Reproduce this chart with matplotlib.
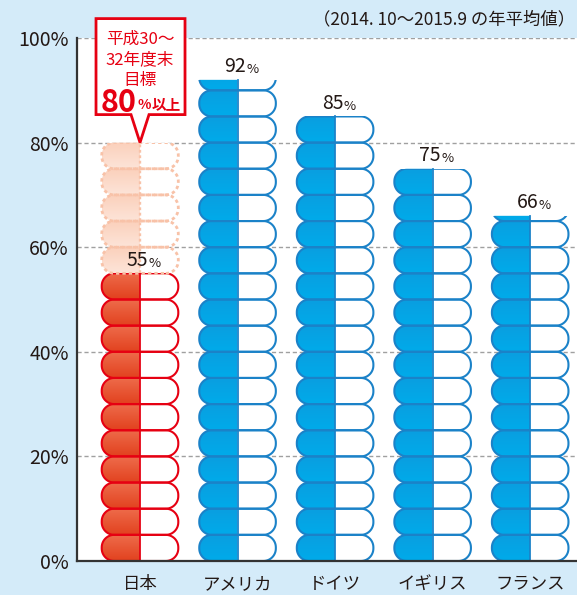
import numpy as np
import matplotlib.pyplot as plt
from matplotlib.path import Path
from matplotlib.patches import PathPatch, Rectangle
import matplotlib.colors as mcolors

plt.rcParams['font.family'] = ['Noto Sans CJK JP', 'DejaVu Sans']

# data
countries = ['日本', 'アメリカ', 'ドイツ', 'イギリス', 'フランス']
rates = [55, 92, 85, 75, 66]
target = 80          # Japanese goal
pill_step = 5        # one capsule = 5 %
yticks = [0, 20, 40, 60, 80, 100]
note = '（2014. 10～2015.9 の年平均値）'
goal_lines = ['平成30～', '32年度末', '目標']
goal_value = '80'
goal_suffix = '%以上'

W, H = 577, 595
fig = plt.figure(figsize=(W / 100, H / 100), dpi=100)
fig.patch.set_facecolor('#d4ebf9')
ax = fig.add_axes([77 / W, 34 / H, 1 - 77 / W, 523 / H])
XLIM = (-0.646, 4.48)
ax.set_xlim(*XLIM)
ax.set_ylim(0, 100)

# pixels per data unit, used to keep the capsule ends round
PX_X = (W - 77) / (XLIM[1] - XLIM[0])
PX_Y = 523 / 100.0

PILL_W = 0.785
R_PX = 12.5
INK = '#231815'


def corner(cx, cy, a0, a1, n=16):
    t = np.radians(np.linspace(a0, a1, n))
    return np.column_stack([cx + np.cos(t) * R_PX / PX_X, cy + np.sin(t) * R_PX / PX_Y])


def outline(xc, y0, part):
    """capsule outline: part is 'full', 'left' or 'right'"""
    left, right = xc - PILL_W / 2, xc + PILL_W / 2
    bot, top = y0, y0 + pill_step
    rx, ry = R_PX / PX_X, R_PX / PX_Y
    br = corner(right - rx, bot + ry, -90, 0)
    tr = corner(right - rx, top - ry, 0, 90)
    tl = corner(left + rx, top - ry, 90, 180)
    bl = corner(left + rx, bot + ry, 180, 270)
    if part == 'full':
        pts = np.vstack([br, tr, tl, bl, br[:1]])
    elif part == 'left':
        pts = np.vstack([[[xc, top]], tl, bl, [[xc, bot]], [[xc, top]]])
    else:
        pts = np.vstack([[[xc, bot]], br, tr, [[xc, top]], [[xc, bot]]])
    return pts


def gradient(c_top, c_bot, n=32):
    a = np.array(mcolors.to_rgba(c_top))
    b = np.array(mcolors.to_rgba(c_bot))
    t = np.linspace(0, 1, n)[:, None]
    return (a * (1 - t) + b * t)[:, None, :]


def draw_pill(xc, y0, top_val, colors, edge, lw=1.5, ls='-'):
    clip = Rectangle((XLIM[0], 0), XLIM[1] - XLIM[0], top_val, transform=ax.transData)
    lpts = outline(xc, y0, 'left')
    lpts[:, 1] = np.minimum(lpts[:, 1], top_val)
    lpatch = PathPatch(Path(lpts), facecolor='none', edgecolor='none', transform=ax.transData)
    ax.add_patch(lpatch)
    im = ax.imshow(gradient(*colors), extent=(xc - PILL_W / 2, xc, y0, y0 + pill_step),
                   aspect='auto', origin='upper', zorder=2, interpolation='bilinear')
    im.set_clip_path(lpatch)
    rpts = outline(xc, y0, 'right')
    rpts[:, 1] = np.minimum(rpts[:, 1], top_val)
    ax.add_patch(PathPatch(Path(rpts), facecolor='white', edgecolor='none', zorder=2))
    op = PathPatch(Path(outline(xc, y0, 'full')), facecolor='none', edgecolor=edge,
                   lw=lw, ls=ls, zorder=3)
    ax.add_patch(op)
    op.set_clip_path(clip)
    ax.plot([xc, xc], [y0, min(y0 + pill_step, top_val)], color=edge, lw=lw * 0.85,
            ls=ls, zorder=3)


for i, (name, val) in enumerate(zip(countries, rates)):
    if i == 0:
        fill, edge = ('#ee6c4b', '#e2421f'), '#e60012'
    else:
        fill, edge = ('#0a9ee0', '#00abea'), '#1b82c8'
    y0 = 0
    while y0 < val:
        draw_pill(i, y0, val, fill, edge)
        y0 += pill_step
    # ghost capsules up to the target for Japan
    if i == 0:
        y0 = val
        while y0 < target:
            draw_pill(i, y0, target, ('#fbd0bb', '#fde4d8'), '#f8c2a8', lw=2.0, ls=(0, (1.2, 1.1)))
            y0 += pill_step
    # value label
    ax.annotate(str(val), (i + 0.085, val), xytext=(0, 2), textcoords='offset points',
                ha='right', va='bottom', fontsize=14, color=INK, zorder=5)
    ax.annotate('%', (i + 0.087, val), xytext=(0, 2.5), textcoords='offset points',
                ha='left', va='bottom', fontsize=9.5, color=INK, zorder=5)

ax.set_xlim(*XLIM)
ax.set_ylim(0, 100)

# axes styling
for y in yticks[1:]:
    ax.axhline(y, color='#a0a0a0', lw=1, ls=(0, (3, 2)), zorder=1)
ax.set_facecolor('white')
for s in ['top', 'right']:
    ax.spines[s].set_visible(False)
for s in ['left', 'bottom']:
    ax.spines[s].set_color('#333333')
    ax.spines[s].set_linewidth(1.6)
    ax.spines[s].set_zorder(6)
ax.set_yticks(yticks)
ax.set_yticklabels([f'{v}%' for v in yticks], fontsize=14, color=INK)
ax.set_xticks(range(len(countries)))
ax.set_xticklabels(countries, fontsize=12.5, color=INK)
ax.tick_params(axis='both', length=0)
ax.tick_params(axis='y', pad=6)
ax.tick_params(axis='x', pad=10)

# period note
fig.text(575 / W, 1 - 19 / H, note, ha='right', va='center', fontsize=12.5, color=INK)

# goal callout pointing at the target on Japan's column
bx0, bx1 = 0 - 44 / PX_X, 0 + 45 / PX_X
by0, by1 = target + 28 / PX_Y, target + 124 / PX_Y
hw = 9 / PX_X
call = [(bx0, by1), (bx1, by1), (bx1, by0), (hw, by0), (0, target), (-hw, by0), (bx0, by0), (bx0, by1)]
ax.add_patch(PathPatch(Path(call, closed=True), facecolor='white', edgecolor='#e60012',
                       lw=2, zorder=7, clip_on=False))
red = '#e60012'
for k, line in enumerate(goal_lines):
    ax.text(0, by1 - (21 + 20.5 * k) / PX_Y, line, ha='center', va='center', fontsize=12,
            color=red, zorder=8)
ax.text(-0.03, by1 - 84 / PX_Y, goal_value, ha='right', va='center', fontsize=22,
        fontweight='bold', color=red, zorder=8)
ax.text(-0.028, by1 - 86 / PX_Y, goal_suffix[0], ha='left', va='center', fontsize=10,
        fontweight='bold', color=red, zorder=8)
ax.text(0.115, by1 - 86 / PX_Y, goal_suffix[1:], ha='left', va='center', fontsize=10.5,
        fontweight='bold', color=red, zorder=8)

fig.savefig('out.png', dpi=100, facecolor=fig.get_facecolor())
